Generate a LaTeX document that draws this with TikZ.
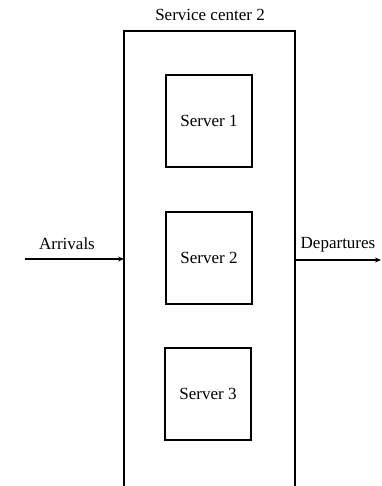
\documentclass[tikz,border=0pt]{standalone}
\usepackage{fontspec}
\setmainfont{Liberation Serif}
\usetikzlibrary{arrows.meta}
\begin{document}
\begin{tikzpicture}[x=1pt,y=-1pt,
  serverbox/.style={draw,line width=1.2pt,minimum width=86pt,minimum height=92pt,inner sep=0pt,font=\fontsize{17}{20}\selectfont},
  lbl/.style={font=\fontsize{17}{20}\selectfont,inner sep=0pt},
  flow/.style={line width=1.1pt,-{Stealth[length=6pt,width=5pt]}}]
\useasboundingbox (0,0) rectangle (381,486);
% outer service centre (open at bottom)
\coordinate (oBL) at (124,486);
\coordinate (oTL) at (124,31);
\coordinate (oTR) at (295,31);
\coordinate (oBR) at (295,486);
\draw[line width=1.4pt] (oBL) -- (oTL) -- (oTR) -- (oBR);
\node[lbl] (title) at (210,15) {Service center 2};
% servers
\node[serverbox] (s1) at (209,121) {Server 1};
\node[serverbox] (s2) at (209,258) {Server 2};
\node[serverbox] (s3) at (208,394) {Server 3};
% arrivals / departures
\coordinate (ain) at (25,259);
\coordinate (aout) at (124,259);
\coordinate (din) at (295,260);
\coordinate (dout) at (381,260);
\draw[flow] (ain) -- (aout);
\draw[flow] (din) -- (dout);
\node[lbl] (arr) at (67,244) {Arrivals};
\node[lbl] (dep) at (338,245) {Departures};
\end{tikzpicture}
\end{document}
